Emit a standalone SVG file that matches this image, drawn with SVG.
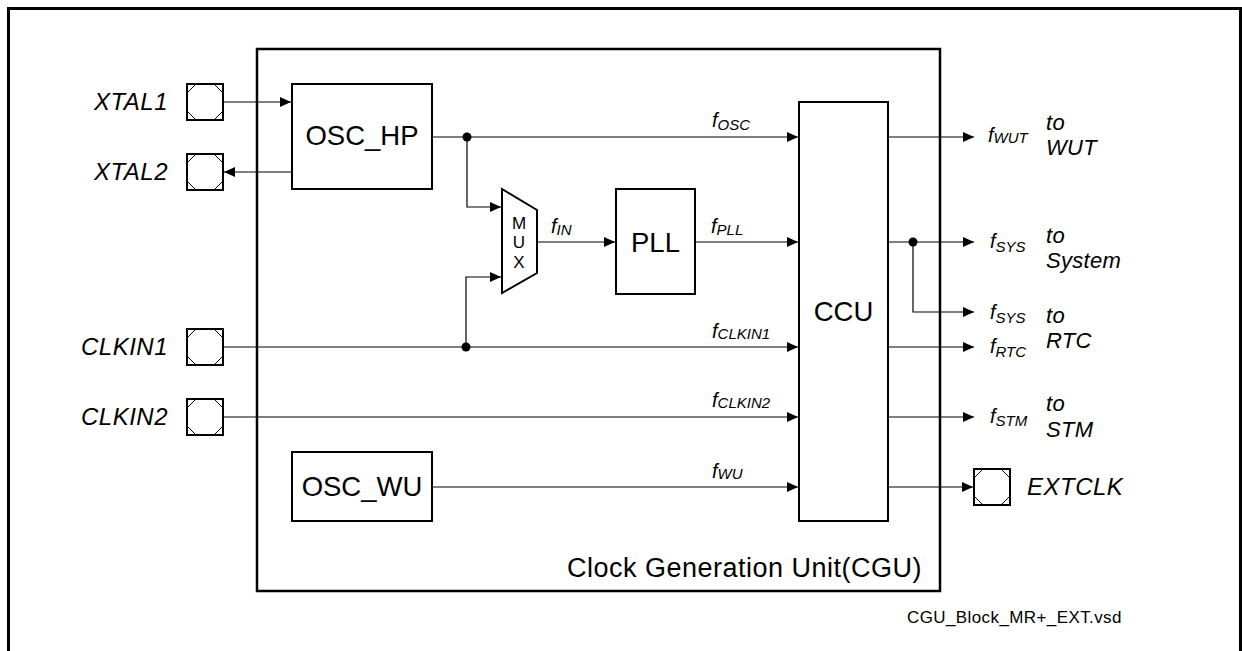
<svg xmlns="http://www.w3.org/2000/svg" width="1242" height="651" viewBox="0 0 1242 651">
<style>
text{font-family:"Liberation Sans",Arial,sans-serif;fill:#000}
.blk{fill:#fff;stroke:#000;stroke-width:2}
.pad{fill:#fff;stroke:#000;stroke-width:2}
.oct{fill:none;stroke:#000;stroke-width:1}
.ln{fill:none;stroke:#000;stroke-width:1.2}
.arr{marker-end:url(#ah)}
.big{font-size:27.5px;text-anchor:middle}
.pin{font-size:24px;font-style:italic;text-anchor:end;letter-spacing:0.5px}
.pin2{font-size:24px;font-style:italic;letter-spacing:0.5px}
.sig{font-size:20px;font-style:italic}
.sub{font-size:15px}
.dst{font-size:22px;font-style:italic;letter-spacing:0.3px}
.mux{font-size:17px;text-anchor:middle}
</style>
<defs>
<marker id="ah" markerUnits="userSpaceOnUse" markerWidth="12" markerHeight="10" refX="11" refY="5" orient="auto">
<path d="M0,0 L11,5 L0,10 z" fill="#000"/>
</marker>
</defs>
<rect width="1242" height="651" fill="#fff"/>
<rect id="frame" x="8.5" y="8.5" width="1232" height="660" fill="none" stroke="#000" stroke-width="3"/>
<g id="cgu">
<rect x="257" y="49" width="683" height="542" fill="none" stroke="#000" stroke-width="2.5"/>
<text x="922" y="577" font-size="27" letter-spacing="0.5" text-anchor="end">Clock Generation Unit(CGU)</text>
</g>
<g id="osc_hp"><rect class="blk" x="292" y="84" width="140" height="105"/><text class="big" x="362" y="145">OSC_HP</text></g>
<g id="osc_wu"><rect class="blk" x="292" y="452" width="140" height="69"/><text class="big" x="362" y="496">OSC_WU</text></g>
<g id="pll"><rect class="blk" x="616" y="189" width="79" height="105"/><text class="big" x="655.5" y="252" font-size="27">PLL</text></g>
<g id="ccu"><rect class="blk" x="799" y="102" width="89" height="419"/><text class="big" x="843.5" y="321" font-size="27">CCU</text></g>
<g id="mux"><polygon points="502,189 537,210 537,273 502,293" fill="#fff" stroke="#000" stroke-width="2"/>
<text class="mux" x="519" y="229">M</text><text class="mux" x="519" y="248">U</text><text class="mux" x="519" y="268">X</text></g>
<g id="xtal1"><rect class="pad" x="187" y="84" width="36" height="36"/><polygon class="oct" points="196,84 214,84 223,93 223,111 214,120 196,120 187,111 187,93"/><text class="pin" x="168" y="110">XTAL1</text></g>
<g id="xtal2"><rect class="pad" x="187" y="154" width="36" height="36"/><polygon class="oct" points="196,154 214,154 223,163 223,181 214,190 196,190 187,181 187,163"/><text class="pin" x="168" y="180">XTAL2</text></g>
<g id="clkin1"><rect class="pad" x="187" y="329" width="36" height="36"/><polygon class="oct" points="196,329 214,329 223,338 223,356 214,365 196,365 187,356 187,338"/><text class="pin" x="168" y="355">CLKIN1</text></g>
<g id="clkin2"><rect class="pad" x="187" y="399" width="36" height="36"/><polygon class="oct" points="196,399 214,399 223,408 223,426 214,435 196,435 187,426 187,408"/><text class="pin" x="168" y="425">CLKIN2</text></g>
<g id="extclk"><rect class="pad" x="974" y="469" width="36" height="36"/><polygon class="oct" points="983,469 1001,469 1010,478 1010,496 1001,505 983,505 974,496 974,478"/><text class="pin2" x="1027" y="495">EXTCLK</text></g>
<g id="connectors">
<path class="ln arr" d="M223,102 H291"/>
<path class="ln arr" d="M292,172 H224"/>
<path class="ln arr" d="M432,137 H798"/>
<path class="ln arr" d="M467,137 V207 H501"/>
<path class="ln arr" d="M223,347 H798"/>
<path class="ln arr" d="M466,347 V277 H501"/>
<path class="ln arr" d="M537,242 H615"/>
<path class="ln arr" d="M695,242 H798"/>
<path class="ln arr" d="M223,417 H798"/>
<path class="ln arr" d="M432,487 H798"/>
<path class="ln arr" d="M888,137 H974"/>
<path class="ln arr" d="M888,242 H974"/>
<path class="ln arr" d="M913,242 V312 H974"/>
<path class="ln arr" d="M888,347 H974"/>
<path class="ln arr" d="M888,417 H974"/>
<path class="ln arr" d="M888,487 H973"/>
<circle cx="467" cy="137" r="4.5"/>
<circle cx="466" cy="347" r="4.5"/>
<circle cx="913" cy="242" r="4.5"/>
</g>
<g id="labels">
<text class="sig" x="712" y="127">f<tspan class="sub" dy="3">OSC</tspan></text>
<text class="sig" x="551" y="233">f<tspan class="sub" dy="2">IN</tspan></text>
<text class="sig" x="711" y="233">f<tspan class="sub" dy="2">PLL</tspan></text>
<text class="sig" x="712" y="338">f<tspan class="sub" dy="1">CLKIN1</tspan></text>
<text class="sig" x="712" y="407">f<tspan class="sub" dy="1">CLKIN2</tspan></text>
<text class="sig" x="712" y="478">f<tspan class="sub" dy="1">WU</tspan></text>
<text class="sig" x="988" y="142">f<tspan class="sub" dy="1">WUT</tspan></text>
<text class="sig" x="990" y="248">f<tspan class="sub" dy="4">SYS</tspan></text>
<text class="sig" x="990" y="319">f<tspan class="sub" dy="4">SYS</tspan></text>
<text class="sig" x="990" y="353">f<tspan class="sub" dy="4">RTC</tspan></text>
<text class="sig" x="990" y="423">f<tspan class="sub" dy="3">STM</tspan></text>
<text class="dst" x="1046" y="130">to</text><text class="dst" x="1046" y="155">WUT</text>
<text class="dst" x="1046" y="243">to</text><text class="dst" x="1046" y="268">System</text>
<text class="dst" x="1046" y="323">to</text><text class="dst" x="1046" y="348">RTC</text>
<text class="dst" x="1046" y="411">to</text><text class="dst" x="1046" y="437">STM</text>
<text x="907" y="623" font-size="17" letter-spacing="0.4">CGU_Block_MR+_EXT.vsd</text>
</g>
</svg>
